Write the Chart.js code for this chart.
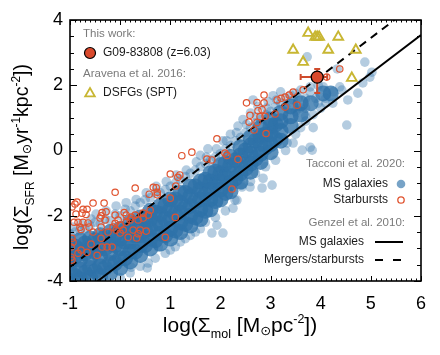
<!DOCTYPE html>
<html><head><meta charset="utf-8">
<script src="https://cdn.jsdelivr.net/npm/chart.js@4.4.0/dist/chart.umd.min.js"></script>
<style>html,body{margin:0;padding:0;background:#fff}</style>
</head><body>
<canvas id="c" width="440" height="355"></canvas>
<script>
// ---------------- data ----------------
const xTickValues = [-1, 0, 1, 2, 3, 4, 5, 6];
const yTickValues = [-4, -2, 0, 2, 4];

// Genzel et al. 2010 relations (values at x = -1 and x = 6)
const lineX = [-1, 6];
const genzelMS = [-4.65, 3.54];
const genzelSB = [-3.57, 4.62];

// G09-83808
const g09X = [3.93];
const g09Y = [2.25];
const g09XErr = [[0.33, 0.2]];
const g09YErr = [[0.49, 0.25]];

// Aravena et al. 2016 DSFGs (SPT)
const dsfgSPT = [[3.75,3.6],[3.89,3.48],[3.93,3.48],[3.97,3.48],[4.35,3.48],[3.45,3.08],[4.15,3.08],[4.7,3.08],[3.65,2.71],[4.62,2.22]];

// Tacconi et al. 2020 starbursts
const starbursts = [
[4.38,2.5],[4.12,2.25],[3.65,1.86],[3.45,1.79],[3.37,1.7],[3.29,1.64],[3.21,1.6],[3.13,1.55],[2.87,1.7],[2.52,1.46],[2.73,1.47],[2.87,1.46],[3.29,1.33],[3.53,1.39],[2.83,1.25],[2.75,1.22],[3.09,1.12],[2.59,1.08],[2.79,1.04],[2.89,1.05],[2.57,0.87],[2.73,0.86],[2.67,0.63],[2.91,0.52],
[1.93,0.36],[1.43,-0.05],[1.23,-0.16],[2.09,-0.08],[2.13,-0.15],[1.73,-0.26],[1.83,-0.29],[2.35,-0.27],[1.0,-0.72],[1.19,-0.75],[1.15,-0.82],[1.11,-1.09],[2.23,-1.18],[0.66,-1.13],[0.72,-1.14],[0.74,-1.28],[0.3,-1.15],[-0.1,-1.28],[0.58,-1.34],[0.74,-1.36],[1.0,-1.46],[1.1,-2.05],[0.9,-2.66],
[-0.54,-1.61],[-0.32,-1.61],[-0.96,-1.73],[-0.9,-1.64],[-0.86,-1.58],[-0.74,-1.8],[-0.66,-1.8],[-0.76,-1.92],[-0.68,-1.96],[-0.36,-1.9],[-0.28,-1.88],[-0.38,-2.0],[-0.88,-1.95],[-0.1,-1.98],[0.22,-2.04],[0.56,-1.98],[0.6,-1.83],[-0.92,-2.2],[-0.84,-2.2],[-0.74,-2.2],[-0.64,-2.22],[-0.4,-2.07],[-0.3,-2.13],[-0.04,-2.13],[0.0,-2.29],[-0.1,-2.23],[0.12,-2.2],[0.2,-2.13],[0.3,-1.98],[0.36,-2.13],[0.46,-1.92],[0.46,-2.07],[0.12,-1.98],[0.08,-1.9],[-0.8,-2.35],[-0.78,-2.42],[-0.62,-2.35],[-0.38,-2.35],[-0.14,-2.35],[-0.08,-2.44],[0.06,-2.44],[0.26,-2.44],[0.0,-2.53],[-0.24,-2.5],[-0.54,-2.5],[0.4,-2.44],[0.52,-2.47],[0.16,-2.66],[0.36,-2.55],[0.33,-2.68],[-0.96,-2.69],[-0.94,-2.81],[-0.38,-2.69],[-0.36,-2.96],[-0.26,-2.96],[-0.16,-2.96],[-0.58,-2.87],[-0.46,-3.21],[-0.66,-3.12],[-0.84,-3.15],[-0.78,-3.05],[-0.98,-3.27],[-0.96,-3.36],[-0.98,-2.96]
];

// Tacconi et al. 2020 MS galaxies: dense core of the cloud
const msCore = [
[-1.0,-4.0],[-1.0,-3.7],[-1.0,-3.4],[-1.0,-3.1],[-1.0,-2.85],
[-0.9,-3.85],[-0.9,-3.25],[-0.9,-2.95],
[-0.8,-3.95],[-0.8,-3.65],[-0.8,-3.35],[-0.8,-3.05],[-0.8,-2.75],
[-0.7,-3.75],[-0.7,-3.15],[-0.7,-2.85],
[-0.6,-3.9],[-0.6,-3.6],[-0.6,-3.3],[-0.6,-3.0],[-0.6,-2.7],
[-0.5,-3.7],[-0.5,-3.1],[-0.5,-2.75],
[-0.4,-3.85],[-0.4,-3.55],[-0.4,-3.25],[-0.4,-2.95],[-0.4,-2.6],
[-0.3,-3.6],[-0.3,-3.0],[-0.3,-2.65],
[-0.2,-3.75],[-0.2,-3.45],[-0.2,-3.15],[-0.2,-2.85],[-0.2,-2.5],
[-0.1,-3.45],[-0.1,-2.9],[-0.1,-2.6],
[0.0,-3.6],[0.0,-3.3],[0.0,-3.0],[0.0,-2.7],[0.0,-2.4],
[0.1,-3.3],[0.1,-2.8],[0.1,-2.45],
[0.2,-3.4],[0.2,-3.1],[0.2,-2.8],[0.2,-2.5],[0.2,-2.2],
[0.3,-3.1],[0.3,-2.6],[0.3,-2.25],
[0.4,-3.2],[0.4,-2.9],[0.4,-2.6],[0.4,-2.3],[0.4,-2.05],
[0.5,-2.9],[0.5,-2.45],[0.5,-2.1],
[0.6,-3.0],[0.6,-2.7],[0.6,-2.4],[0.6,-2.1],[0.6,-1.85],
[0.7,-2.75],[0.7,-2.25],[0.7,-1.9],
[0.8,-2.85],[0.8,-2.55],[0.8,-2.25],[0.8,-1.95],[0.8,-1.7],
[0.9,-2.6],[0.9,-2.1],[0.9,-1.7],
[1.0,-2.7],[1.0,-2.4],[1.0,-2.1],[1.0,-1.8],[1.0,-1.5],
[1.1,-2.45],[1.1,-1.95],[1.1,-1.5],
[1.2,-2.5],[1.2,-2.2],[1.2,-1.9],[1.2,-1.6],[1.2,-1.3],
[1.3,-2.25],[1.3,-1.75],[1.3,-1.3],
[1.4,-2.3],[1.4,-2.0],[1.4,-1.7],[1.4,-1.4],[1.4,-1.1],
[1.5,-2.05],[1.5,-1.55],[1.5,-1.1],
[1.6,-2.1],[1.6,-1.8],[1.6,-1.5],[1.6,-1.2],[1.6,-0.95],
[1.7,-1.85],[1.7,-1.35],[1.7,-0.9],
[1.8,-1.8],[1.8,-1.5],[1.8,-1.2],[1.8,-0.95],[1.8,-0.7],
[1.9,-1.55],[1.9,-1.05],[1.9,-0.65],
[2.0,-1.5],[2.0,-1.2],[2.0,-0.95],[2.0,-0.7],[2.0,-0.45],
[2.1,-1.3],[2.1,-0.8],[2.1,-0.4],
[2.2,-1.25],[2.2,-1.0],[2.2,-0.7],[2.2,-0.45],[2.2,-0.2],
[2.3,-0.85],[2.3,-0.3],
[2.4,-0.95],[2.4,-0.7],[2.4,-0.4],[2.4,-0.15],[2.4,0.1],
[2.5,-0.55],[2.5,0.0],
[2.6,-0.65],[2.6,-0.4],[2.6,-0.1],[2.6,0.15],[2.6,0.4],
[2.7,-0.25],[2.7,0.3],
[2.8,-0.35],[2.8,-0.1],[2.8,0.2],[2.8,0.45],[2.8,0.7],
[2.9,0.1],[2.9,0.5],
[3.0,-0.05],[3.0,0.2],[3.0,0.5],[3.0,0.75],[3.0,0.95],
[3.1,0.35],[3.1,0.8],
[3.2,0.3],[3.2,0.6],[3.2,0.9],[3.2,1.15],
[3.4,0.75],[3.4,1.05],[3.4,1.35],
[3.6,1.1],[3.6,1.45],
[3.8,1.45],
[4.05,1.75],[4.2,1.75]
];

// Tacconi et al. 2020 MS galaxies: individual outskirts of the cloud
const msScatter = [
[-1.0,-2.55],[-0.95,-2.35],[-0.9,-2.5],[-0.8,-2.45],[-0.78,-2.25],[-0.7,-2.4],[-0.6,-2.3],[-0.58,-2.1],[-0.5,-2.2],[-0.48,-1.95],[-0.4,-2.25],[-0.3,-2.1],[-0.28,-1.85],[-0.2,-2.15],[-0.1,-1.95],[-0.08,-1.7],[0.0,-2.0],[0.1,-1.8],[0.12,-1.6],[0.2,-1.85],[0.3,-1.7],[0.32,-1.5],[0.4,-1.6],[0.5,-1.5],[0.52,-1.3],[0.6,-1.45],[0.7,-1.3],[0.72,-1.1],[0.8,-1.3],[0.9,-1.2],[0.92,-0.95],[1.0,-1.1],[1.1,-1.0],[1.12,-0.75],[1.2,-0.9],[1.3,-0.8],[1.32,-0.6],[1.4,-0.7],[1.5,-0.6],[1.52,-0.35],[1.6,-0.5],[1.7,-0.4],[1.72,-0.2],[1.8,-0.3],[1.9,-0.2],[1.92,0.05],[2.0,-0.1],[2.1,0.05],[2.12,0.3],[2.2,0.15],[2.3,0.3],[2.32,0.55],[2.4,0.4],[2.5,0.55],[2.52,0.8],[2.6,0.7],[2.7,0.85],[2.72,1.05],[2.8,0.95],[2.9,1.1],[2.92,1.3],[3.0,1.2],[3.1,1.35],[3.12,1.55],[3.2,1.45],[3.3,1.6],[3.4,1.7],[3.5,1.75],[3.6,1.85],[3.73,2.87],[3.79,1.95],[3.79,1.79],[3.95,2.0],[4.05,1.95],[4.33,2.5],[4.38,1.95],[4.42,1.85],[4.54,1.55],[4.74,1.76],[4.84,2.07],[4.88,2.71],[5.02,2.4],[4.98,2.25],[4.24,1.45],
[3.9,1.6],[4.1,1.6],[4.25,1.8],[3.7,1.6],[3.55,1.6],[3.45,1.55],[3.3,1.35],[3.5,1.2],[3.7,1.3],[3.95,1.45],
[2.2,0.5],[2.05,0.3],[2.35,0.75],[2.45,0.95],[2.6,1.15],[2.75,1.35],[2.65,1.55],[2.95,1.5],[3.05,1.68],[3.2,1.8],[1.75,0.05],[1.6,-0.15],
[0.0,-3.9],[0.2,-3.75],[0.22,-3.58],[0.4,-3.55],[0.56,-3.45],[0.54,-3.6],[0.7,-3.3],[0.76,-2.96],[0.9,-3.15],[1.0,-3.05],[1.1,-2.95],[1.2,-2.8],[1.3,-2.7],[1.4,-2.6],[1.5,-2.5],[1.6,-2.4],[1.7,-2.2],[1.83,-2.53],[1.93,-2.29],[2.05,-2.53],[1.9,-2.05],[2.1,-1.85],[2.25,-1.77],[2.33,-1.52],[2.43,-1.06],[2.29,-1.52],[2.43,-1.12],[2.59,-1.12],[2.83,-1.15],[2.85,-0.85],[3.03,-1.06],[2.6,-0.95],[2.7,-0.7],[2.9,-0.5],[3.1,-0.3],[3.33,0.23],[3.45,0.23],[3.63,0.01],[3.83,0.01],[3.79,0.1],[3.3,0.0],[3.5,0.5],[3.6,0.7],[3.7,0.9],[3.85,1.1],[4.0,1.3],[4.1,1.45],[4.52,0.78],[3.59,1.3],[3.7,1.05],[3.85,0.7]
];

// ---------------- styling ----------------
const FONT = '"Liberation Sans", Arial, "DejaVu Sans", sans-serif';
const RED = '#e0532f';
const YEL = '#c8b632';
const BLUE = '46,114,169';
Chart.defaults.font.family = FONT;

const toXY = a => a.map(p => ({x: p[0], y: p[1]}));
const linePts = ys => lineX.map((x, i) => ({x, y: ys[i]}));

function richWidth(ctx, parts) {
  let w = 0;
  for (const p of parts) { ctx.font = p.s + 'px ' + FONT; w += ctx.measureText(p.t).width; }
  return w;
}
function drawRich(ctx, parts, x, y) {
  let cx = x;
  for (const p of parts) {
    ctx.font = p.s + 'px ' + FONT;
    ctx.fillText(p.t, cx, y + (p.dy || 0));
    cx += ctx.measureText(p.t).width;
  }
}

const decor = {
  id: 'decor',
  beforeDatasetDraw(chart, args) {
    if (args.index !== 0) return;
    const ctx = chart.ctx, xs = chart.scales.x, ys = chart.scales.y;
    ctx.save();
    ctx.strokeStyle = '#cf4b2d'; ctx.lineWidth = 2;
    for (let i = 0; i < g09X.length; i++) {
      const px = xs.getPixelForValue(g09X[i]), py = ys.getPixelForValue(g09Y[i]);
      const xl = xs.getPixelForValue(g09X[i] - g09XErr[i][0]);
      const xr = xs.getPixelForValue(g09X[i] + g09XErr[i][1]);
      const yb = ys.getPixelForValue(g09Y[i] - g09YErr[i][0]);
      const yt = ys.getPixelForValue(g09Y[i] + g09YErr[i][1]);
      ctx.beginPath();
      ctx.moveTo(xl, py); ctx.lineTo(xr, py);
      ctx.moveTo(px, yb); ctx.lineTo(px, yt);
      ctx.moveTo(xl, py - 3); ctx.lineTo(xl, py + 3);
      ctx.moveTo(xr, py - 3); ctx.lineTo(xr, py + 3);
      ctx.moveTo(px - 3, yb); ctx.lineTo(px + 3, yb);
      ctx.moveTo(px - 3, yt); ctx.lineTo(px + 3, yt);
      ctx.stroke();
    }
    ctx.restore();
  },
  afterDraw(chart) {
    const ctx = chart.ctx, xs = chart.scales.x, ys = chart.scales.y;
    const {left, right, top, bottom} = chart.chartArea;
    ctx.save();
    // ticks
    ctx.strokeStyle = '#000'; ctx.lineWidth = 1;
    ctx.beginPath();
    for (let i = -10; i <= 60; i++) {
      const v = i / 10, px = Math.round(xs.getPixelForValue(v)) + 0.5;
      const L = (i % 10 === 0) ? 5 : 2.5;
      ctx.moveTo(px, bottom); ctx.lineTo(px, bottom - L);
      ctx.moveTo(px, top); ctx.lineTo(px, top + L);
    }
    for (let i = -8; i <= 8; i++) {
      const v = i / 2, py = Math.round(ys.getPixelForValue(v)) + 0.5;
      const L = (i % 4 === 0) ? 7 : 4;
      ctx.moveTo(left, py); ctx.lineTo(left + L, py);
      ctx.moveTo(right, py); ctx.lineTo(right - L, py);
    }
    ctx.stroke();
    // frame
    ctx.lineWidth = 1.6;
    ctx.strokeRect(left, top, right - left, bottom - top);

    // axis titles
    ctx.fillStyle = '#000'; ctx.textBaseline = 'alphabetic'; ctx.textAlign = 'left';
    const xt = [{t:'log(Σ', s:21},{t:'mol', s:12.5, dy:6},{t:' [M', s:21},{t:'⊙', s:13, dy:3},{t:'pc', s:21},{t:'-2', s:12.5, dy:-9},{t:'])', s:21}];
    drawRich(ctx, xt, 240 - richWidth(ctx, xt) / 2, 332);
    const yt = [{t:'log(Σ', s:19.5},{t:'SFR', s:12, dy:6},{t:' [M', s:19.5},{t:'⊙', s:12.5, dy:3},{t:'yr', s:19.5},{t:'-1', s:12, dy:-8},{t:'kpc', s:19.5},{t:'-2', s:12, dy:-8},{t:'])', s:19.5}];
    ctx.save();
    ctx.translate(28, 157); ctx.rotate(-Math.PI / 2);
    drawRich(ctx, yt, -richWidth(ctx, yt) / 2, 0);
    ctx.restore();

    // legend top-left
    ctx.textBaseline = 'middle';
    ctx.fillStyle = '#7a7a7a'; ctx.font = '11.5px ' + FONT;
    ctx.fillText('This work:', 83, 34);
    ctx.fillText('Aravena et al. 2016:', 83, 74);
    ctx.fillStyle = '#1a1a1a'; ctx.font = '12px ' + FONT;
    ctx.fillText('G09-83808 (z=6.03)', 103, 53);
    ctx.fillText('DSFGs (SPT)', 103, 93);
    ctx.beginPath(); ctx.arc(90, 53, 5.5, 0, Math.PI * 2);
    ctx.fillStyle = '#d9492c'; ctx.fill(); ctx.strokeStyle = '#000'; ctx.lineWidth = 1.2; ctx.stroke();
    ctx.beginPath(); ctx.moveTo(90, 88); ctx.lineTo(94.8, 96.3); ctx.lineTo(85.2, 96.3); ctx.closePath();
    ctx.strokeStyle = YEL; ctx.lineWidth = 1.8; ctx.stroke();

    // legend bottom-right
    ctx.textAlign = 'right';
    ctx.fillStyle = '#7a7a7a'; ctx.font = '11.5px ' + FONT;
    ctx.fillText('Tacconi et al. 2020:', 405, 164);
    ctx.fillText('Genzel et al. 2010:', 405, 223);
    ctx.fillStyle = '#1a1a1a'; ctx.font = '12px ' + FONT;
    ctx.fillText('MS galaxies', 388, 184);
    ctx.fillText('Starbursts', 388, 200);
    ctx.fillText('MS galaxies', 364, 242);
    ctx.fillText('Mergers/starbursts', 364, 260);
    ctx.beginPath(); ctx.arc(401, 184, 4.3, 0, Math.PI * 2);
    ctx.fillStyle = 'rgba(' + BLUE + ',0.65)'; ctx.fill();
    ctx.beginPath(); ctx.arc(401, 200, 3.2, 0, Math.PI * 2);
    ctx.strokeStyle = RED; ctx.lineWidth = 1.3; ctx.stroke();
    ctx.strokeStyle = '#000'; ctx.lineWidth = 2;
    ctx.beginPath(); ctx.moveTo(375, 242); ctx.lineTo(403, 242); ctx.stroke();
    ctx.setLineDash([8, 10]);
    ctx.beginPath(); ctx.moveTo(375, 260); ctx.lineTo(403, 260); ctx.stroke();
    ctx.setLineDash([]);
    ctx.restore();
  }
};

new Chart(document.getElementById('c'), {
  type: 'scatter',
  data: {
    datasets: [
      {label: 'G09-83808 (z=6.03)', data: g09X.map((x, i) => ({x, y: g09Y[i]})), pointRadius: 6,
       backgroundColor: '#d9492c', borderColor: '#000', borderWidth: 1.3, order: 0},
      {label: 'DSFGs (SPT)', data: toXY(dsfgSPT), pointStyle: 'triangle', pointRadius: 5.6,
       borderColor: YEL, borderWidth: 1.9, backgroundColor: 'rgba(0,0,0,0)', order: 1},
      {label: 'Starbursts', data: toXY(starbursts), pointRadius: 3.2, borderColor: RED, borderWidth: 1.2,
       backgroundColor: 'rgba(0,0,0,0)', order: 2},
      {label: 'MS galaxies (Genzel)', type: 'line', data: linePts(genzelMS), borderColor: '#000', borderWidth: 2,
       pointRadius: 0, fill: false, order: 3},
      {label: 'Mergers/starbursts', type: 'line', data: linePts(genzelSB), borderColor: '#000', borderWidth: 2,
       borderDash: [8, 6], pointRadius: 0, fill: false, order: 3},
      {label: 'MS galaxies', data: toXY(msScatter), pointRadius: 4.8, borderWidth: 0,
       backgroundColor: 'rgba(' + BLUE + ',0.36)', order: 5},
      {label: 'MS galaxies core', data: toXY(msCore), pointRadius: 8, borderWidth: 0,
       backgroundColor: 'rgba(' + BLUE + ',0.78)', order: 6}
    ]
  },
  options: {
    responsive: false, animation: false, devicePixelRatio: 1,
    events: [],
    layout: {padding: {top: 20, right: 19, left: 0, bottom: 0}},
    plugins: {legend: {display: false}, tooltip: {enabled: false}},
    scales: {
      x: {type: 'linear', min: -1, max: 6,
          afterBuildTicks(s) { s.ticks = xTickValues.map(v => ({value: v})); },
          ticks: {font: {size: 18}, color: '#000', padding: 12, maxRotation: 0},
          grid: {display: false, drawTicks: false}, border: {display: false},
          afterFit(s) { s.height = 74; }},
      y: {type: 'linear', min: -4, max: 4,
          afterBuildTicks(s) { s.ticks = yTickValues.map(v => ({value: v})); },
          ticks: {font: {size: 18}, color: '#000', padding: 7},
          grid: {display: false, drawTicks: false}, border: {display: false},
          afterFit(s) { s.width = 70; }}
    }
  },
  plugins: [decor]
});
</script>
</body></html>
